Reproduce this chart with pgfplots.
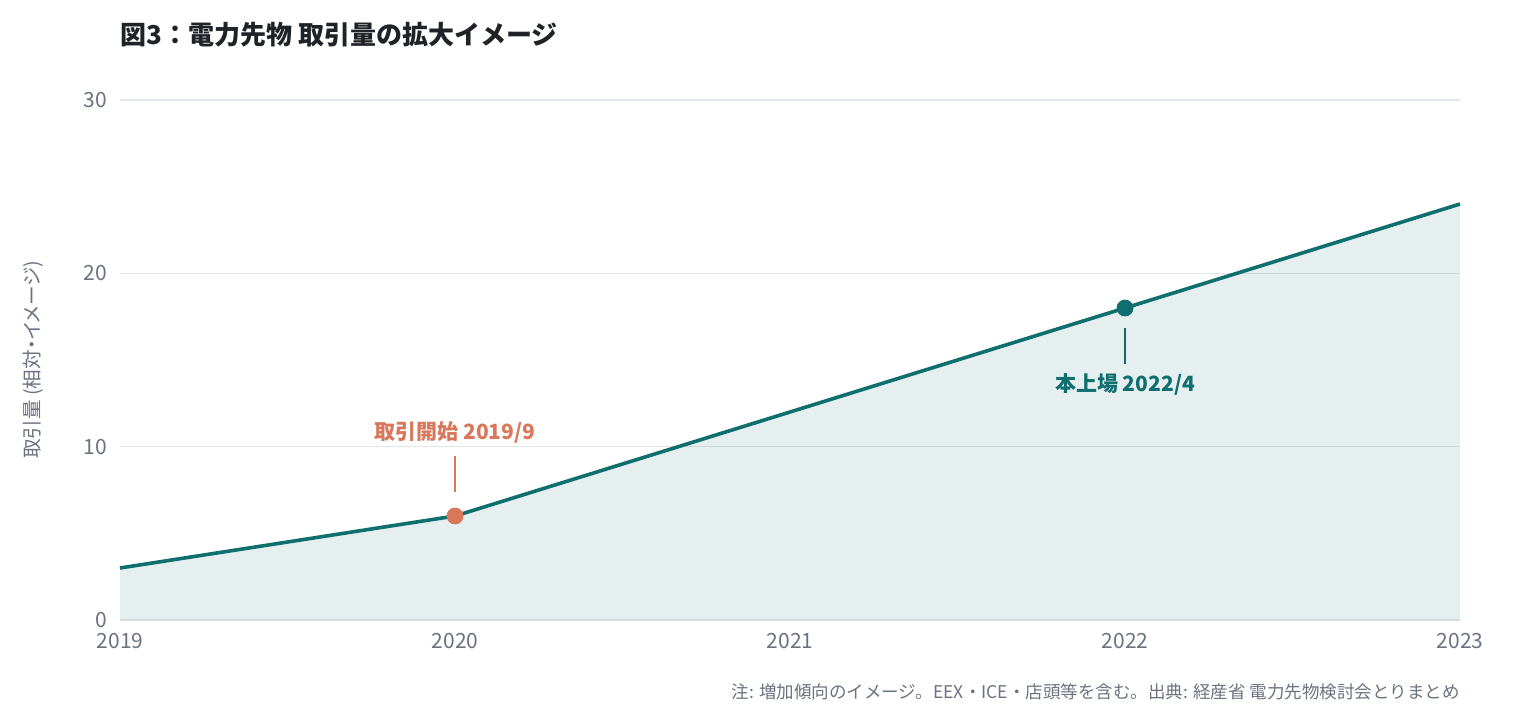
\documentclass[border=0pt]{standalone}
\usepackage{fontspec}
\setmainfont{Noto Sans CJK JP}
\newfontfamily\notefont[RawFeature=+palt]{Noto Sans CJK JP}
\usepackage{pgfplots}
\pgfplotsset{compat=1.18}
\definecolor{lineteal}{HTML}{0F6E6E}
\definecolor{startorange}{HTML}{D9775A}
\definecolor{gridgray}{HTML}{E2E5E9}
\definecolor{basegray}{HTML}{D3DADE}
\definecolor{ticktext}{HTML}{6B7280}
\definecolor{titletext}{HTML}{1F2328}
\definecolor{notetext}{HTML}{6B7280}

\begin{document}
\begin{tikzpicture}
\path[use as bounding box] (0pt,0pt) rectangle (760pt,360pt);
\begin{axis}[
  at={(60pt,50pt)}, anchor=south west,
  scale only axis, width=670pt, height=260pt,
  xmin=2019, xmax=2023, ymin=0, ymax=30,
  xtick={2019,2020,2021,2022,2023},
  ytick={0,10,20,30},
  ymajorgrids,
  grid style={draw=gridgray, line width=0.8pt},
  axis line style={draw=none},
  major tick length=0pt,
  tick style={draw=none},
  /pgf/number format/1000 sep={},
  /pgf/number format/assume math mode=true,
  tick label style={font=\fontsize{10.5}{12}\selectfont, text=ticktext},
  yticklabel style={xshift=-3pt},
  xticklabel style={yshift=-3pt},
  clip=false,
]
% shaded area under the volume curve
\addplot[draw=none, fill=lineteal, fill opacity=0.11]
  coordinates {(2019,3) (2020,6) (2021,12) (2022,18) (2023,24)} \closedcycle;
% baseline at zero
\draw[basegray, line width=1pt] (axis cs:2019,0) -- (axis cs:2023,0);
% volume curve
\addplot[lineteal, line width=1.8pt]
  coordinates {(2019,3) (2020,6) (2021,12) (2022,18) (2023,24)};
% milestones
\addplot[only marks, mark=*, mark size=4pt, color=startorange]
  coordinates {(2020,6)};
\addplot[only marks, mark=*, mark size=4pt, color=lineteal]
  coordinates {(2022,18)};
\draw[startorange, line width=1.2pt] (axis cs:2020,7.38) -- (axis cs:2020,9.46);
\node[text=startorange, font=\fontsize{10.5}{12}\selectfont\bfseries]
  at (axis cs:2020,10.85) {取引開始 2019/9};
\draw[lineteal, line width=1.2pt] (axis cs:2022,14.77) -- (axis cs:2022,16.85);
\node[text=lineteal, font=\fontsize{10.5}{12}\selectfont\bfseries]
  at (axis cs:2022,13.6) {本上場 2022/4};
\end{axis}
% title, axis label and note
\node[anchor=west, inner sep=0pt, text=titletext, font=\fontsize{13}{15}\selectfont\bfseries]
  at (60pt,342.5pt) {図3：電力先物 取引量の拡大イメージ};
\node[rotate=90, text=ticktext, font=\notefont\fontsize{9.8}{11}\selectfont]
  at (16.5pt,180pt) {取引量 (相対・イメージ)};
\node[anchor=east, inner sep=0pt, text=notetext, font=\fontsize{8.75}{10}\selectfont]
  at (730pt,14pt) {注: 増加傾向のイメージ。EEX・ICE・店頭等を含む。出典: 経産省 電力先物検討会とりまとめ};
\end{tikzpicture}
\end{document}
